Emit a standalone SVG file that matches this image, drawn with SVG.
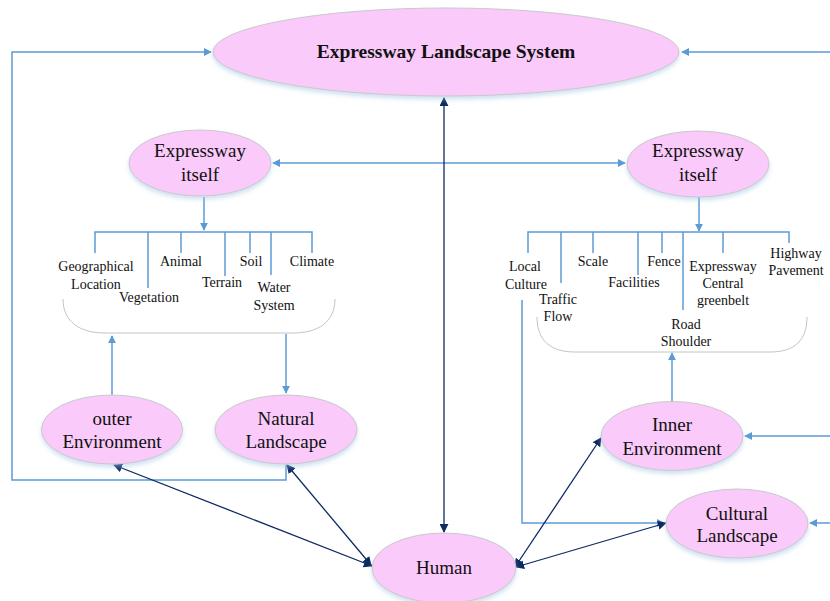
<svg xmlns="http://www.w3.org/2000/svg" width="830" height="601" viewBox="0 0 830 601">
<defs>
<marker id="ab" viewBox="0 0 10 10" refX="9" refY="5" markerWidth="8" markerHeight="8" markerUnits="userSpaceOnUse" orient="auto-start-reverse"><path d="M0,0 L10,5 L0,10 z" fill="#5b9bd5"/></marker>
<marker id="ad" viewBox="0 0 10 10" refX="9" refY="5" markerWidth="9" markerHeight="9" markerUnits="userSpaceOnUse" orient="auto-start-reverse"><path d="M0,0 L10,5 L0,10 z" fill="#0e2a63"/></marker>
<filter id="sh" x="-10%" y="-10%" width="120%" height="130%"><feDropShadow dx="0" dy="3" stdDeviation="2" flood-color="#9fc3e3" flood-opacity="0.5"/></filter>
</defs>
<style>
.n{fill:#facafa;stroke:#c9c9c9;stroke-width:1;filter:url(#sh)}
.t{font-family:"Liberation Serif","Times New Roman",serif;font-size:19px;fill:#111;text-anchor:middle}
.s{font-family:"Liberation Serif","Times New Roman",serif;font-size:14px;fill:#111;text-anchor:middle}
.b{fill:none;stroke:#5b9bd5;stroke-width:1.5}
.d{fill:none;stroke:#0e2a63;stroke-width:1.3}
.br{fill:none;stroke:#c4c4c4;stroke-width:1}
</style>
<rect width="830" height="601" fill="#fff"/>
<g id="connectors">
<polyline class="b" points="286,465 286,480 12,480 12,52 211,52" marker-end="url(#ab)"/>
<line class="b" x1="830" y1="52" x2="682" y2="52" marker-end="url(#ab)"/>
<line class="b" x1="273" y1="163" x2="625" y2="163" marker-start="url(#ab)" marker-end="url(#ab)"/>
<line class="b" x1="204" y1="197" x2="204" y2="230" marker-end="url(#ab)"/>
<polyline class="b" points="95,253 95,232 312,232 312,253"/>
<line class="b" x1="148" y1="232" x2="148" y2="288"/>
<line class="b" x1="181" y1="232" x2="181" y2="253"/>
<line class="b" x1="225" y1="232" x2="225" y2="276"/>
<line class="b" x1="250" y1="232" x2="250" y2="253"/>
<line class="b" x1="271" y1="232" x2="271" y2="275"/>
<line class="b" x1="699" y1="197" x2="699" y2="231" marker-end="url(#ab)"/>
<polyline class="b" points="528,253 528,232 789,232 789,243"/>
<line class="b" x1="561" y1="232" x2="561" y2="283"/>
<line class="b" x1="593" y1="232" x2="593" y2="253"/>
<line class="b" x1="638" y1="232" x2="638" y2="275"/>
<line class="b" x1="662" y1="232" x2="662" y2="253"/>
<line class="b" x1="683" y1="232" x2="683" y2="310"/>
<line class="b" x1="723" y1="232" x2="723" y2="253"/>
<line class="b" x1="112" y1="395" x2="112" y2="336" marker-end="url(#ab)"/>
<line class="b" x1="286" y1="334" x2="286" y2="393" marker-end="url(#ab)"/>
<line class="b" x1="672" y1="402" x2="672" y2="353" marker-end="url(#ab)"/>
<polyline class="b" points="522,300 522,523 664,523" marker-end="url(#ab)"/>
<line class="b" x1="830" y1="436" x2="745" y2="436" marker-end="url(#ab)"/>
<line class="b" x1="830" y1="523" x2="810" y2="523" marker-end="url(#ab)"/>
<line class="d" x1="444" y1="98" x2="444" y2="532" marker-start="url(#ad)" marker-end="url(#ad)"/>
<line class="d" x1="114" y1="465" x2="372" y2="566" marker-start="url(#ad)" marker-end="url(#ad)"/>
<line class="d" x1="287" y1="465" x2="371" y2="565" marker-start="url(#ad)" marker-end="url(#ad)"/>
<line class="d" x1="515" y1="567" x2="601" y2="438" marker-start="url(#ad)" marker-end="url(#ad)"/>
<line class="d" x1="516" y1="567" x2="666" y2="523" marker-start="url(#ad)" marker-end="url(#ad)"/>
</g>
<g id="bracket-left">
<path class="br" d="M63,299 C63,322 80,333 105,333 L293,333 C318,333 335,322 335,299"/>
<text class="s" x="96" y="271">Geographical</text>
<text class="s" x="96" y="289">Location</text>
<text class="s" x="149" y="302">Vegetation</text>
<text class="s" x="181" y="266">Animal</text>
<text class="s" x="222" y="287">Terrain</text>
<text class="s" x="251" y="266">Soil</text>
<text class="s" x="274" y="292">Water</text>
<text class="s" x="274" y="310">System</text>
<text class="s" x="312" y="266">Climate</text>
</g>
<g id="bracket-right">
<path class="br" d="M537,317 C537,340 550,352 575,352 L770,352 C795,352 807,340 807,317"/>
<text class="s" x="525" y="271">Local</text>
<text class="s" x="526" y="289">Culture</text>
<text class="s" x="558" y="304">Traffic</text>
<text class="s" x="558" y="321">Flow</text>
<text class="s" x="593" y="266">Scale</text>
<text class="s" x="634" y="287">Facilities</text>
<text class="s" x="664" y="266">Fence</text>
<text class="s" x="686" y="329">Road</text>
<text class="s" x="686" y="346">Shoulder</text>
<text class="s" x="723" y="271">Expressway</text>
<text class="s" x="723" y="288">Central</text>
<text class="s" x="723" y="305">greenbelt</text>
<text class="s" x="796" y="258">Highway</text>
<text class="s" x="796" y="275">Pavement</text>
</g>
<g id="main">
<ellipse class="n" cx="446" cy="52" rx="233" ry="44"/>
<text class="t" x="446" y="58" style="font-weight:bold;font-size:19.5px">Expressway Landscape System</text>
</g>
<g id="itself-left">
<ellipse class="n" cx="200" cy="163" rx="71" ry="33"/>
<text class="t" x="200" y="157">Expressway</text>
<text class="t" x="200" y="181">itself</text>
</g>
<g id="itself-right">
<ellipse class="n" cx="698" cy="164" rx="71" ry="33"/>
<text class="t" x="698" y="157">Expressway</text>
<text class="t" x="698" y="181">itself</text>
</g>
<g id="outer-env">
<ellipse class="n" cx="112" cy="429.5" rx="70.5" ry="34.5"/>
<text class="t" x="112" y="425">outer</text>
<text class="t" x="112" y="448">Environment</text>
</g>
<g id="natural">
<ellipse class="n" cx="286" cy="429.5" rx="71" ry="34.5"/>
<text class="t" x="286" y="425">Natural</text>
<text class="t" x="286" y="448">Landscape</text>
</g>
<g id="inner-env">
<ellipse class="n" cx="672" cy="436" rx="71" ry="34.5"/>
<text class="t" x="672" y="431">Inner</text>
<text class="t" x="672" y="455">Environment</text>
</g>
<g id="cultural">
<ellipse class="n" cx="737" cy="523.5" rx="71" ry="34.5"/>
<text class="t" x="737" y="520">Cultural</text>
<text class="t" x="737" y="542">Landscape</text>
</g>
<g id="human">
<ellipse class="n" cx="444" cy="568" rx="72" ry="35"/>
<text class="t" x="444" y="574">Human</text>
</g>
</svg>
